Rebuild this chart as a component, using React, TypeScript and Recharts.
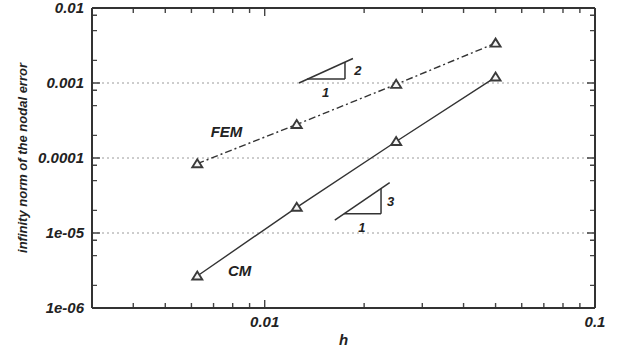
import React from "react";
import {
  LineChart,
  Line,
  XAxis,
  YAxis,
  ReferenceLine,
  ReferenceDot,
} from "recharts";

// ---- data ----
const hValues = [0.00625, 0.0125, 0.025, 0.05];
const femError = [8.4e-5, 0.00028, 0.00096, 0.0034];
const cmError = [2.67e-6, 2.2e-5, 0.000166, 0.0012];

const xMajorTicks = [0.01, 0.1];
const xMajorLabels = ["0.01", "0.1"];
const xInnerTicks = [
  0.004, 0.005, 0.006, 0.007, 0.008, 0.009, 0.01,
  0.02, 0.03, 0.04, 0.05, 0.06, 0.07, 0.08, 0.09,
];
const yMajorTicks = [1e-6, 1e-5, 1e-4, 1e-3, 1e-2];
const yMajorLabels = ["1e-06", "1e-05", "0.0001", "0.001", "0.01"];
const yInnerTicks = [
  2e-6, 5e-6, 8e-6, 1e-5, 2e-5, 5e-5, 8e-5, 1e-4, 2e-4, 5e-4, 8e-4,
  1e-3, 2e-3, 5e-3, 8e-3,
];
const gridValues = [1e-5, 1e-4, 1e-3];

// slope annotation geometry (data coordinates)
const femSlopeLine = [
  { x: 0.0127, y: 0.001 },
  { x: 0.0185, y: 0.00212 },
];
const femSlopeBase = [
  { x: 0.01345, y: 0.00113 },
  { x: 0.0175, y: 0.00113 },
];
const femSlopeRise = [
  { x: 0.0175, y: 0.00113 },
  { x: 0.0175, y: 0.0019 },
];
const cmSlopeLine = [
  { x: 0.0163, y: 1.49e-5 },
  { x: 0.0239, y: 4.7e-5 },
];
const cmSlopeBase = [
  { x: 0.01739, y: 1.81e-5 },
  { x: 0.0225, y: 1.81e-5 },
];
const cmSlopeRise = [
  { x: 0.0225, y: 1.81e-5 },
  { x: 0.0225, y: 3.92e-5 },
];

const textNotes = [
  { x: 0.00766, y: 2.24e-4, text: "FEM", size: 15 },
  { x: 0.0084, y: 3.21e-6, text: "CM", size: 15 },
  { x: 0.01913, y: 0.00146, text: "2", size: 13 },
  { x: 0.01528, y: 0.000747, text: "1", size: 13 },
  { x: 0.02404, y: 2.67e-5, text: "3", size: 13 },
  { x: 0.01968, y: 1.17e-5, text: "1", size: 13 },
];

const data = hValues.map((h, i) => ({ h, fem: femError[i], cm: cmError[i] }));

const FONT = "'Liberation Sans', Arial, Helvetica, sans-serif";
const AXIS = "#333";
const INK = "#222";
const TICK = "#444";
const MAJOR = 8;
const MINOR = 5;

const isMajor = (v: number, list: number[]) =>
  list.some((m) => Math.abs(m - v) / m < 1e-9);
const labelFor = (v: number, list: number[], labels: string[]) => {
  const i = list.findIndex((m) => Math.abs(m - v) / m < 1e-9);
  return i >= 0 ? labels[i] : null;
};

// inward tick marks at both ends of a (virtual) reference line
const xTickShape = (len: number) => (p: any) => {
  const yTop = Math.min(p.y1, p.y2);
  const yBot = Math.max(p.y1, p.y2);
  return (
    <path
      d={`M${p.x1},${yBot}V${yBot - len}M${p.x1},${yTop}V${yTop + len}`}
      stroke={TICK}
      strokeWidth={1.4}
      fill="none"
    />
  );
};
const yTickShape = (len: number) => (p: any) => {
  const xL = Math.min(p.x1, p.x2);
  const xR = Math.max(p.x1, p.x2);
  return (
    <path
      d={`M${xL},${p.y1}H${xL + len}M${xR},${p.y1}H${xR - len}`}
      stroke={TICK}
      strokeWidth={1.4}
      fill="none"
    />
  );
};

const BottomLabel = (props: any) => {
  const { x, y, payload } = props;
  const lab = labelFor(payload.value, xMajorTicks, xMajorLabels);
  if (!lab) return <g />;
  return (
    <text x={x} y={y + 19} textAnchor="middle" fontFamily={FONT} fontSize={15}
      fontWeight="bold" fontStyle="italic" fill={INK} stroke="none">
      {lab}
    </text>
  );
};

const LeftLabel = (props: any) => {
  const { x, y, payload } = props;
  const lab = labelFor(payload.value, yMajorTicks, yMajorLabels);
  if (!lab) return <g />;
  return (
    <text x={x - 8} y={y + 5} textAnchor="end" fontFamily={FONT} fontSize={15}
      fontWeight="bold" fontStyle="italic" fill={INK} stroke="none">
      {lab}
    </text>
  );
};

const TriangleDot = (props: any) => {
  const { cx, cy, index } = props;
  if (cx == null || cy == null) return <g key={index} />;
  return (
    <path
      key={index}
      d={`M${cx - 5},${cy + 3.5} L${cx + 5},${cy + 3.5} L${cx},${cy - 4.5} Z`}
      fill="#f4f4f4"
      stroke="#3a3a3a"
      strokeWidth={1.9}
      strokeLinejoin="miter"
    />
  );
};

const YTitle = (props: any) => {
  const { viewBox } = props;
  const cx = viewBox.x + 10;
  const cy = viewBox.y + viewBox.height / 2;
  return (
    <text x={cx} y={cy} transform={`rotate(-90 ${cx} ${cy})`} textAnchor="middle"
      dominantBaseline="central" fontFamily={FONT} fontSize={13} fontWeight="bold"
      fontStyle="italic" fill={INK}>
      infinity norm of the nodal error
    </text>
  );
};

const XTitle = (props: any) => {
  const { viewBox } = props;
  return (
    <text x={viewBox.x + viewBox.width / 2} y={viewBox.y + 37} textAnchor="middle"
      fontFamily={FONT} fontSize={15} fontWeight="bold" fontStyle="italic" fill={INK}>
      h
    </text>
  );
};

const NoteLabel = (text: string, size: number) => (props: any) => {
  const { viewBox } = props;
  const cx = viewBox.x + viewBox.width / 2;
  const cy = viewBox.y + viewBox.height / 2;
  return (
    <text x={cx} y={cy} textAnchor="middle" dominantBaseline="central" fontFamily={FONT}
      fontSize={size} fontWeight="bold" fontStyle="italic" fill={INK}>
      {text}
    </text>
  );
};

export default function App() {
  const segs = [femSlopeLine, femSlopeBase, femSlopeRise, cmSlopeLine, cmSlopeBase, cmSlopeRise];
  return (
    <div style={{ position: "absolute", left: 0, top: 0, background: "#fff" }}>
      <LineChart
        width={617}
        height={351}
        data={data}
        margin={{ top: 4, right: 12, bottom: 13, left: 12 }}
      >
        {gridValues.map((v) => (
          <ReferenceLine key={`g${v}`} y={v} stroke="#9a9a9a" strokeWidth={1} strokeDasharray="2 3" />
        ))}
        {xInnerTicks.map((v) => (
          <ReferenceLine key={`xt${v}`} x={v} shape={xTickShape(isMajor(v, xMajorTicks) ? MAJOR : MINOR)} />
        ))}
        {yInnerTicks.map((v) => (
          <ReferenceLine key={`yt${v}`} y={v} shape={yTickShape(isMajor(v, yMajorTicks) ? MAJOR : MINOR)} />
        ))}
        {segs.map((s, i) => (
          <ReferenceLine key={`s${i}`} segment={s} stroke="#333" strokeWidth={1.5} ifOverflow="visible" />
        ))}
        {textNotes.map((n, i) => (
          <ReferenceDot key={`t${i}`} x={n.x} y={n.y} r={0} fill="none" stroke="none"
            ifOverflow="visible" label={NoteLabel(n.text, n.size)} />
        ))}
        <Line
          dataKey="fem"
          stroke="#333"
          strokeWidth={1.4}
          strokeDasharray="7 3 2 3"
          dot={TriangleDot}
          isAnimationActive={false}
        />
        <Line
          dataKey="cm"
          stroke="#333"
          strokeWidth={1.4}
          dot={TriangleDot}
          isAnimationActive={false}
        />
        <XAxis
          dataKey="h"
          type="number"
          scale="log"
          domain={[0.003, 0.1]}
          allowDataOverflow
          ticks={xMajorTicks}
          interval={0}
          tickSize={0}
          tickMargin={0}
          tickLine={false}
          tick={<BottomLabel />}
          axisLine={{ stroke: AXIS, strokeWidth: 2 }}
          height={30}
          label={<XTitle />}
        />
        <XAxis
          xAxisId="top"
          orientation="top"
          dataKey="h"
          type="number"
          scale="log"
          domain={[0.003, 0.1]}
          allowDataOverflow
          tick={false}
          tickLine={false}
          axisLine={{ stroke: AXIS, strokeWidth: 2 }}
          height={4}
        />
        <YAxis
          type="number"
          scale="log"
          domain={[1e-6, 0.01]}
          allowDataOverflow
          ticks={yMajorTicks}
          interval={0}
          tickSize={0}
          tickMargin={0}
          tickLine={false}
          tick={<LeftLabel />}
          axisLine={{ stroke: AXIS, strokeWidth: 2 }}
          width={80}
          label={<YTitle />}
        />
        <YAxis
          yAxisId="right"
          orientation="right"
          type="number"
          scale="log"
          domain={[1e-6, 0.01]}
          allowDataOverflow
          tick={false}
          tickLine={false}
          axisLine={{ stroke: AXIS, strokeWidth: 2 }}
          width={10}
        />
      </LineChart>
    </div>
  );
}
